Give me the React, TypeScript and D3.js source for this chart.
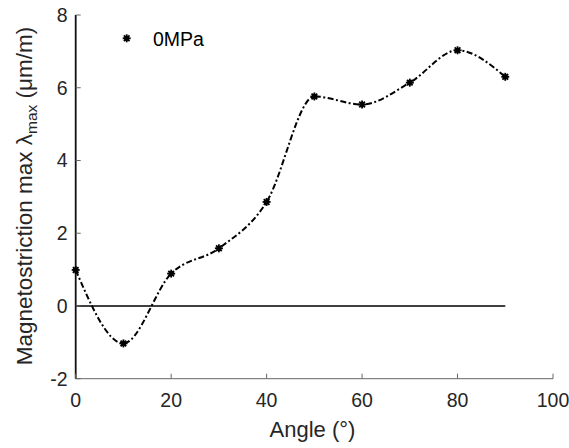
import React from "react";
import * as d3 from "d3";

const angles = [0, 10, 20, 30, 40, 50, 60, 70, 80, 90];
const lambdaMax = [0.99, -1.03, 0.89, 1.585, 2.86, 5.76, 5.54, 6.14, 7.03, 6.3];
const xTicks = [0, 20, 40, 60, 80, 100];
const yTicks = [-2, 0, 2, 4, 6, 8];
const legendLabel = "0MPa";

const W = 569, H = 448;
const margin = { left: 75.7, right: 16, top: 15, bottom: 69.3 };

function Asterisk({ x, y }: { x: number; y: number }) {
  const r = 4;
  const d = r * 0.7071;
  return (
    <g stroke="#000" strokeWidth={1.8}>
      <line x1={x - r} y1={y} x2={x + r} y2={y} />
      <line x1={x} y1={y - r} x2={x} y2={y + r} />
      <line x1={x - d} y1={y - d} x2={x + d} y2={y + d} />
      <line x1={x - d} y1={y + d} x2={x + d} y2={y - d} />
      <circle cx={x} cy={y} r={2.6} fill="#000" stroke="none" />
    </g>
  );
}

export default function App() {
  const x = d3.scaleLinear().domain([0, 100]).range([margin.left, W - margin.right]);
  const y = d3.scaleLinear().domain([-2, 8]).range([H - margin.bottom, margin.top]);
  const pts: [number, number][] = angles.map((a, i) => [a, lambdaMax[i]]);
  const line = d3
    .line<[number, number]>()
    .x((d) => x(d[0]))
    .y((d) => y(d[1]))
    .curve(d3.curveMonotoneX);
  const axisColor = "#262626";
  const font = "'Liberation Sans', Arial, Helvetica, sans-serif";
  const x0 = x(0), y0 = y(-2);
  return (
    <svg width={W} height={H} style={{ position: "absolute", left: 0, top: 0, background: "#fff" }} fontFamily={font}>
      {/* zero line */}
      <line x1={x(0)} x2={x(90)} y1={y(0)} y2={y(0)} stroke="#000" strokeWidth={1.6} />
      {/* axes */}
      <line x1={x0} x2={x(100)} y1={y0} y2={y0} stroke="#666" strokeWidth={1} />
      <line x1={x0} x2={x0} y1={y(8)} y2={y0} stroke="#111" strokeWidth={1.8} />
      {xTicks.map((t) => (
        <g key={"x" + t}>
          <line x1={x(t)} x2={x(t)} y1={y0} y2={y0 - 5} stroke="#666" strokeWidth={1} />
          <text x={x(t)} y={407} textAnchor="middle" fontSize={19.5} fill={axisColor}>
            {t}
          </text>
        </g>
      ))}
      {yTicks.map((t) => (
        <g key={"y" + t}>
          <line x1={x0} x2={x0 + 5} y1={y(t)} y2={y(t)} stroke="#666" strokeWidth={1} />
          <text x={67.5} y={y(t) + 7} textAnchor="end" fontSize={19.5} fill={axisColor}>
            {t}
          </text>
        </g>
      ))}
      {/* data curve */}
      <path d={line(pts) || ""} fill="none" stroke="#000" strokeWidth={2} strokeDasharray="6,2.5,2,2.5" />
      {pts.map((p, i) => (
        <Asterisk key={i} x={x(p[0])} y={y(p[1])} />
      ))}
      {/* legend */}
      <Asterisk x={126.7} y={38.3} />
      <text x={153} y={45.5} fontSize={19.5} fill="#000">
        {legendLabel}
      </text>
      {/* axis labels */}
      <text x={312.5} y={437} textAnchor="middle" fontSize={22} fill={axisColor}>
        Angle (°)
      </text>
      <text transform="translate(31.5,196) rotate(-90)" textAnchor="middle" fontSize={22.5} fill={axisColor}>
        Magnetostriction max{" "}
        <tspan>λ</tspan>
        <tspan fontSize={15.5} dy={5}>max</tspan>
        <tspan dy={-5}> (μm/m)</tspan>
      </text>
    </svg>
  );
}
